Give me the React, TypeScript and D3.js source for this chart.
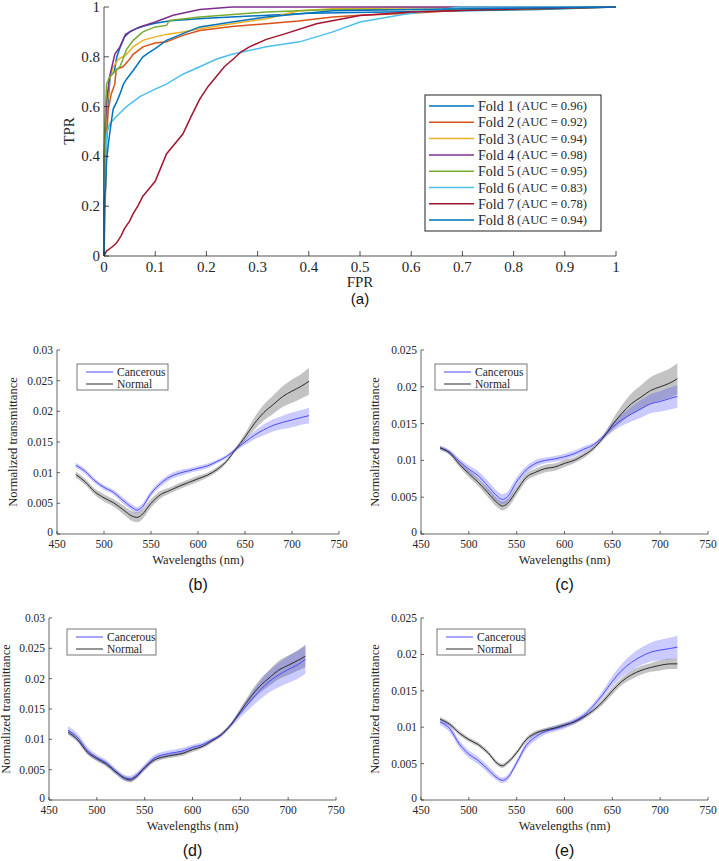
import React from "react";
import * as d3 from "d3";

// ---------- ROC data (FPR, TPR) ----------
const FOLD_NAMES = ["Fold 1", "Fold 2", "Fold 3", "Fold 4", "Fold 5", "Fold 6", "Fold 7", "Fold 8"];
const FOLD_AUC = ["0.96", "0.92", "0.94", "0.98", "0.95", "0.83", "0.78", "0.94"];
const FOLD_COLORS = ["#0072BD", "#D95319", "#EDB120", "#7E2F8E", "#77AC30", "#4DBEEE", "#A2142F", "#0072BD"];

const FOLD1 = [[0,0],[0,0.30],[0.004,0.45],[0.008,0.62],[0.012,0.72],[0.02,0.74],[0.025,0.80],[0.032,0.84],[0.04,0.88],[0.05,0.9],[0.065,0.915],[0.08,0.925],[0.1,0.935],[0.13,0.945],[0.2,0.955],[0.3,0.965],[0.4,0.975],[0.55,0.98],[0.7,0.985],[0.85,0.99],[1,1]];
const FOLD2 = [[0,0],[0.003,0.27],[0.005,0.45],[0.008,0.585],[0.014,0.65],[0.021,0.69],[0.024,0.75],[0.037,0.76],[0.05,0.79],[0.057,0.81],[0.076,0.84],[0.1,0.855],[0.122,0.86],[0.154,0.886],[0.187,0.906],[0.25,0.922],[0.317,0.933],[0.38,0.944],[0.447,0.96],[0.5,0.967],[0.6,0.975],[0.76,0.995],[1,1]];
const FOLD3 = [[0,0],[0,0.35],[0.005,0.585],[0.011,0.71],[0.018,0.76],[0.028,0.79],[0.044,0.81],[0.057,0.84],[0.076,0.866],[0.1,0.88],[0.122,0.89],[0.154,0.90],[0.187,0.913],[0.25,0.933],[0.317,0.953],[0.38,0.985],[0.447,0.993],[0.6,0.997],[1,1]];
const FOLD4 = [[0,0],[0,0.4],[0.005,0.62],[0.011,0.72],[0.021,0.81],[0.031,0.84],[0.042,0.89],[0.055,0.905],[0.07,0.92],[0.1,0.94],[0.135,0.967],[0.187,0.99],[0.25,1.0],[1,1]];
const FOLD5 = [[0,0],[0,0.35],[0.001,0.49],[0.003,0.6],[0.005,0.69],[0.011,0.72],[0.021,0.74],[0.031,0.76],[0.037,0.79],[0.044,0.83],[0.057,0.866],[0.076,0.90],[0.1,0.92],[0.122,0.926],[0.128,0.946],[0.187,0.96],[0.317,0.98],[0.447,0.99],[0.8,0.99],[1,1]];
const FOLD6 = [[0,0],[0,0.2],[0.003,0.35],[0.005,0.49],[0.011,0.53],[0.024,0.56],[0.044,0.60],[0.07,0.64],[0.1,0.67],[0.122,0.69],[0.154,0.73],[0.187,0.76],[0.219,0.79],[0.25,0.81],[0.317,0.84],[0.382,0.86],[0.447,0.90],[0.5,0.94],[0.584,0.97],[0.695,1.0],[1,1]];
const FOLD7 = [[0,0],[0.005,0.02],[0.015,0.035],[0.024,0.051],[0.033,0.08],[0.04,0.11],[0.05,0.14],[0.057,0.17],[0.066,0.20],[0.076,0.24],[0.088,0.27],[0.1,0.30],[0.11,0.35],[0.122,0.41],[0.138,0.45],[0.154,0.49],[0.17,0.56],[0.187,0.63],[0.203,0.68],[0.219,0.72],[0.235,0.76],[0.252,0.79],[0.268,0.82],[0.284,0.84],[0.317,0.87],[0.35,0.89],[0.415,0.933],[0.5,0.966],[0.6,0.98],[0.76,0.99],[1,1]];
const FOLD8 = [[0,0],[0,0.22],[0.003,0.27],[0.005,0.38],[0.008,0.44],[0.011,0.49],[0.015,0.55],[0.018,0.59],[0.025,0.62],[0.031,0.65],[0.038,0.69],[0.044,0.71],[0.057,0.745],[0.076,0.80],[0.09,0.82],[0.1,0.833],[0.122,0.866],[0.154,0.893],[0.187,0.92],[0.25,0.94],[0.317,0.96],[0.447,0.985],[0.6,0.99],[1,1]];
const FOLDS = [FOLD1, FOLD2, FOLD3, FOLD4, FOLD5, FOLD6, FOLD7, FOLD8];

const ROC_TICKS = [0, 0.1, 0.2, 0.3, 0.4, 0.5, 0.6, 0.7, 0.8, 0.9, 1];
const ROC_YTICKS = [0, 0.2, 0.4, 0.6, 0.8, 1];

// ---------- Spectral data ----------
const WAVELENGTHS = [470,480,490,500,510,520,530,535,540,550,560,570,580,590,600,610,620,630,640,650,660,670,680,690,700,710,718];
const WL_TICKS = [450, 500, 550, 600, 650, 700, 750];

const B_CANCER = [0.0112,0.0102,0.0087,0.0076,0.0068,0.0055,0.0043,0.0039,0.0043,0.0066,0.0082,0.0093,0.0099,0.0103,0.0107,0.0111,0.0118,0.0126,0.0138,0.0150,0.0161,0.0170,0.0177,0.0182,0.0186,0.0190,0.0193];
const B_CANCER_SD = [0.0004,0.0004,0.0004,0.0004,0.0004,0.0005,0.0005,0.0005,0.0005,0.0005,0.0005,0.0005,0.0005,0.0004,0.0004,0.0004,0.0003,0.0003,0.0003,0.0005,0.0007,0.0009,0.0010,0.0011,0.0012,0.0012,0.0013];
const B_NORMAL = [0.0097,0.0085,0.0069,0.0059,0.0051,0.0040,0.0029,0.0027,0.0031,0.0050,0.0064,0.0071,0.0078,0.0084,0.0090,0.0096,0.0105,0.0118,0.0138,0.0158,0.0180,0.0198,0.0211,0.0224,0.0233,0.0241,0.0249];
const B_NORMAL_SD = [0.0005,0.0005,0.0005,0.0006,0.0006,0.0007,0.0008,0.0008,0.0008,0.0007,0.0006,0.0005,0.0005,0.0005,0.0005,0.0004,0.0004,0.0003,0.0003,0.0006,0.0010,0.0013,0.0015,0.0017,0.0019,0.0020,0.0022];

const C_CANCER = [0.0117,0.0111,0.0099,0.0088,0.0079,0.0065,0.0051,0.0047,0.0050,0.0071,0.0087,0.0096,0.0100,0.0102,0.0105,0.0109,0.0115,0.0121,0.0132,0.0145,0.0155,0.0163,0.0170,0.0177,0.0180,0.0184,0.0187];
const C_CANCER_SD = [0.0003,0.0003,0.0004,0.0005,0.0006,0.0007,0.0007,0.0007,0.0007,0.0006,0.0005,0.0005,0.0004,0.0004,0.0004,0.0004,0.0004,0.0003,0.0003,0.0006,0.0008,0.0010,0.0012,0.0013,0.0014,0.0015,0.0015];
const C_NORMAL = [0.0117,0.0110,0.0095,0.0082,0.0070,0.0056,0.0042,0.0038,0.0041,0.0059,0.0077,0.0084,0.0089,0.0091,0.0096,0.0100,0.0107,0.0116,0.0130,0.0148,0.0164,0.0177,0.0186,0.0195,0.0200,0.0205,0.0211];
const C_NORMAL_SD = [0.0003,0.0003,0.0004,0.0005,0.0005,0.0006,0.0006,0.0006,0.0006,0.0006,0.0005,0.0005,0.0005,0.0005,0.0005,0.0004,0.0004,0.0003,0.0003,0.0007,0.0011,0.0014,0.0016,0.0018,0.0019,0.0020,0.0021];

const D_CANCER = [0.0115,0.0103,0.0082,0.0070,0.0061,0.0047,0.0036,0.0035,0.0039,0.0054,0.0069,0.0075,0.0078,0.0081,0.0087,0.0091,0.0099,0.0107,0.0123,0.0143,0.0162,0.0180,0.0195,0.0206,0.0215,0.0223,0.0232];
const D_CANCER_SD = [0.0007,0.0006,0.0006,0.0005,0.0005,0.0005,0.0005,0.0005,0.0005,0.0005,0.0005,0.0005,0.0005,0.0005,0.0004,0.0004,0.0003,0.0003,0.0004,0.0007,0.0011,0.0015,0.0018,0.0020,0.0022,0.0023,0.0024];
const D_NORMAL = [0.0112,0.0099,0.0079,0.0068,0.0059,0.0046,0.0035,0.0033,0.0037,0.0053,0.0066,0.0071,0.0074,0.0077,0.0083,0.0088,0.0097,0.0108,0.0124,0.0146,0.0168,0.0187,0.0201,0.0214,0.0222,0.0230,0.0237];
const D_NORMAL_SD = [0.0004,0.0004,0.0004,0.0004,0.0004,0.0004,0.0004,0.0004,0.0004,0.0004,0.0004,0.0004,0.0004,0.0004,0.0004,0.0003,0.0003,0.0003,0.0003,0.0005,0.0008,0.0011,0.0013,0.0015,0.0016,0.0017,0.0018];

const E_CANCER = [0.0107,0.0098,0.0077,0.0063,0.0054,0.0042,0.0030,0.0027,0.0030,0.0051,0.0075,0.0087,0.0094,0.0098,0.0102,0.0108,0.0116,0.0129,0.0145,0.0163,0.0178,0.0189,0.0197,0.0203,0.0206,0.0208,0.0210];
const E_CANCER_SD = [0.0004,0.0005,0.0005,0.0005,0.0005,0.0005,0.0004,0.0004,0.0004,0.0004,0.0005,0.0005,0.0004,0.0004,0.0004,0.0004,0.0004,0.0004,0.0005,0.0007,0.0009,0.0011,0.0012,0.0013,0.0014,0.0015,0.0016];
const E_NORMAL = [0.0111,0.0104,0.0092,0.0083,0.0076,0.0065,0.0050,0.0047,0.0051,0.0065,0.0083,0.0092,0.0096,0.0099,0.0103,0.0107,0.0114,0.0123,0.0135,0.0150,0.0163,0.0172,0.0178,0.0182,0.0185,0.0187,0.0187];
const E_NORMAL_SD = [0.0003,0.0003,0.0003,0.0003,0.0003,0.0003,0.0003,0.0003,0.0003,0.0003,0.0003,0.0003,0.0003,0.0003,0.0003,0.0003,0.0003,0.0003,0.0004,0.0005,0.0005,0.0006,0.0006,0.0006,0.0007,0.0007,0.0007];

const Y_TICKS_030 = [0, 0.005, 0.01, 0.015, 0.02, 0.025, 0.03];
const Y_TICKS_025 = [0, 0.005, 0.01, 0.015, 0.02, 0.025];

const SERIF = "Liberation Serif";
const SANS = "Liberation Sans";
const AX = "#262626";
const CANCER_COLOR = "#4a4aff";
const CANCER_FILL = "rgba(70,70,255,0.28)";
const NORMAL_COLOR = "#2a2a2a";
const NORMAL_FILL = "rgba(40,40,40,0.28)";

const fmt = (v: number) => (v === 0 ? "0" : String(+v.toFixed(3)));

function RocPanel() {
  const x = d3.scaleLinear().domain([0, 1]).range([104, 616]);
  const y = d3.scaleLinear().domain([0, 1]).range([256, 7]);
  const line = d3.line<number[]>().x((d) => x(d[0])).y((d) => y(d[1]));
  const legX = 425, legY = 95, legW = 176, legH = 136;
  const st = { fontFamily: SERIF };
  return (
    <g>
      {FOLDS.map((f, i) => (
        <path key={i} d={line(f) || ""} fill="none" stroke={FOLD_COLORS[i]} strokeWidth={1.5} />
      ))}
      <line x1={x(0)} x2={x(1)} y1={y(0)} y2={y(0)} stroke={AX} strokeWidth={0.8} />
      <line x1={x(0)} x2={x(0)} y1={y(0)} y2={y(1)} stroke={AX} strokeWidth={0.8} />
      {ROC_TICKS.map((t) => (
        <g key={"x" + t}>
          <line x1={x(t)} x2={x(t)} y1={y(0)} y2={y(0) - 5} stroke={AX} strokeWidth={0.8} />
          <text x={x(t)} y={272} textAnchor="middle" style={st} fontSize={15} fill={AX}>{fmt(t)}</text>
        </g>
      ))}
      {ROC_YTICKS.map((t) => (
        <g key={"y" + t}>
          <line x1={x(0)} x2={x(0) + 5} y1={y(t)} y2={y(t)} stroke={AX} strokeWidth={0.8} />
          <text x={x(0) - 4} y={y(t) + 5} textAnchor="end" style={st} fontSize={15} fill={AX}>{fmt(t)}</text>
        </g>
      ))}
      <text x={360} y={287} textAnchor="middle" style={st} fontSize={15} fill={AX}>FPR</text>
      <text transform={`translate(74,131) rotate(-90)`} textAnchor="middle" style={st} fontSize={15} fill={AX}>TPR</text>
      <text x={360} y={304} textAnchor="middle" style={{ fontFamily: SANS }} fontSize={15} fill="#111">(a)</text>
      <rect x={legX} y={legY} width={legW} height={legH} fill="#fff" stroke="#222" strokeWidth={1} />
      {FOLD_NAMES.map((n, i) => {
        const ry = 106 + i * 16.3;
        return (
          <g key={n}>
            <line x1={429} x2={474} y1={ry} y2={ry} stroke={FOLD_COLORS[i]} strokeWidth={1.5} />
            <text x={478} y={ry + 5} style={st} fontSize={14} fill={AX}>{n}</text>
            <text x={517} y={ry + 4} style={st} fontSize={12.5} fill={AX}>(AUC = {FOLD_AUC[i]})</text>
          </g>
        );
      })}
    </g>
  );
}

type SpecProps = {
  x0: number; x1: number; y0: number; yTopPx: number; yMax: number; yTicks: number[];
  cancer: number[]; cancerSd: number[]; normal: number[]; normalSd: number[];
  legX: number; legY: number; legW: number; titleX: number; label: string; labelY: number;
};

function SpecPanel(p: SpecProps) {
  const x = d3.scaleLinear().domain([450, 750]).range([p.x0, p.x1]);
  const y = d3.scaleLinear().domain([0, p.yMax]).range([p.y0, p.yTopPx]);
  const idx = WAVELENGTHS.map((_, i) => i);
  const area = (m: number[], s: number[]) =>
    d3.area<number>().x((i) => x(WAVELENGTHS[i])).y0((i) => y(m[i] - s[i])).y1((i) => y(m[i] + s[i])).curve(d3.curveMonotoneX)(idx) || "";
  const line = (m: number[]) =>
    d3.line<number>().x((i) => x(WAVELENGTHS[i])).y((i) => y(m[i])).curve(d3.curveMonotoneX)(idx) || "";
  const cx = (p.x0 + p.x1) / 2;
  const st = { fontFamily: SERIF };
  return (
    <g>
      <path d={area(p.normal, p.normalSd)} fill={NORMAL_FILL} stroke="none" />
      <path d={area(p.cancer, p.cancerSd)} fill={CANCER_FILL} stroke="none" />
      <path d={line(p.cancer)} fill="none" stroke={CANCER_COLOR} strokeWidth={1} />
      <path d={line(p.normal)} fill="none" stroke={NORMAL_COLOR} strokeWidth={1} />
      <line x1={p.x0} x2={p.x1} y1={p.y0} y2={p.y0} stroke={AX} strokeWidth={0.7} />
      <line x1={p.x0} x2={p.x0} y1={p.y0} y2={p.yTopPx} stroke={AX} strokeWidth={0.7} />
      {WL_TICKS.map((t) => (
        <g key={"x" + t}>
          <line x1={x(t)} x2={x(t)} y1={p.y0} y2={p.y0 - 3} stroke={AX} strokeWidth={0.7} />
          <text x={x(t)} y={p.y0 + 14} textAnchor="middle" style={st} fontSize={11.5} fill={AX}>{t}</text>
        </g>
      ))}
      {p.yTicks.map((t) => (
        <g key={"y" + t}>
          <line x1={p.x0} x2={p.x0 + 3} y1={y(t)} y2={y(t)} stroke={AX} strokeWidth={0.7} />
          <text x={p.x0 - 4} y={y(t) + (t === 0 ? 2 : 4)} textAnchor="end" style={st} fontSize={11.5} fill={AX}>{fmt(t)}</text>
        </g>
      ))}
      <text x={cx} y={p.y0 + 30} textAnchor="middle" style={st} fontSize={12.5} fill={AX}>Wavelengths (nm)</text>
      <text transform={`translate(${p.titleX},${(p.y0 + p.yTopPx) / 2}) rotate(-90)`} textAnchor="middle" style={st} fontSize={12.5} fill={AX}>Normalized  transmittance</text>
      <text x={cx} y={p.labelY} textAnchor="middle" style={{ fontFamily: SANS }} fontSize={16} fill="#111">{p.label}</text>
      <rect x={p.legX} y={p.legY} width={p.legW} height={26} fill="#fff" stroke="#555" strokeWidth={0.8} />
      <line x1={p.legX + 9} x2={p.legX + 36} y1={p.legY + 8} y2={p.legY + 8} stroke={CANCER_COLOR} strokeWidth={1} />
      <line x1={p.legX + 9} x2={p.legX + 36} y1={p.legY + 20} y2={p.legY + 20} stroke={NORMAL_COLOR} strokeWidth={1} />
      <text x={p.legX + 40} y={p.legY + 12} style={st} fontSize={11.5} fill={AX}>Cancerous</text>
      <text x={p.legX + 40} y={p.legY + 24} style={st} fontSize={11.5} fill={AX}>Normal</text>
    </g>
  );
}

export default function App() {
  return (
    <svg width={719} height={861} style={{ position: "absolute", left: 0, top: 0, background: "#fff" }}>
      <rect width={719} height={861} fill="#fff" />
      <RocPanel />
      <SpecPanel x0={57} x1={339} y0={534} yTopPx={350} yMax={0.03} yTicks={Y_TICKS_030}
        cancer={B_CANCER} cancerSd={B_CANCER_SD} normal={B_NORMAL} normalSd={B_NORMAL_SD}
        legX={77} legY={364} legW={91} titleX={17} label="(b)" labelY={590} />
      <SpecPanel x0={421} x1={708} y0={534} yTopPx={350} yMax={0.025} yTicks={Y_TICKS_025}
        cancer={C_CANCER} cancerSd={C_CANCER_SD} normal={C_NORMAL} normalSd={C_NORMAL_SD}
        legX={435} legY={364} legW={92} titleX={379} label="(c)" labelY={590} />
      <SpecPanel x0={49} x1={336} y0={800} yTopPx={618} yMax={0.03} yTicks={Y_TICKS_030}
        cancer={D_CANCER} cancerSd={D_CANCER_SD} normal={D_NORMAL} normalSd={D_NORMAL_SD}
        legX={67} legY={629} legW={89} titleX={10} label="(d)" labelY={856} />
      <SpecPanel x0={421} x1={708} y0={800} yTopPx={618} yMax={0.025} yTicks={Y_TICKS_025}
        cancer={E_CANCER} cancerSd={E_CANCER_SD} normal={E_NORMAL} normalSd={E_NORMAL_SD}
        legX={437} legY={629} legW={88} titleX={379} label="(e)" labelY={856} />
    </svg>
  );
}
